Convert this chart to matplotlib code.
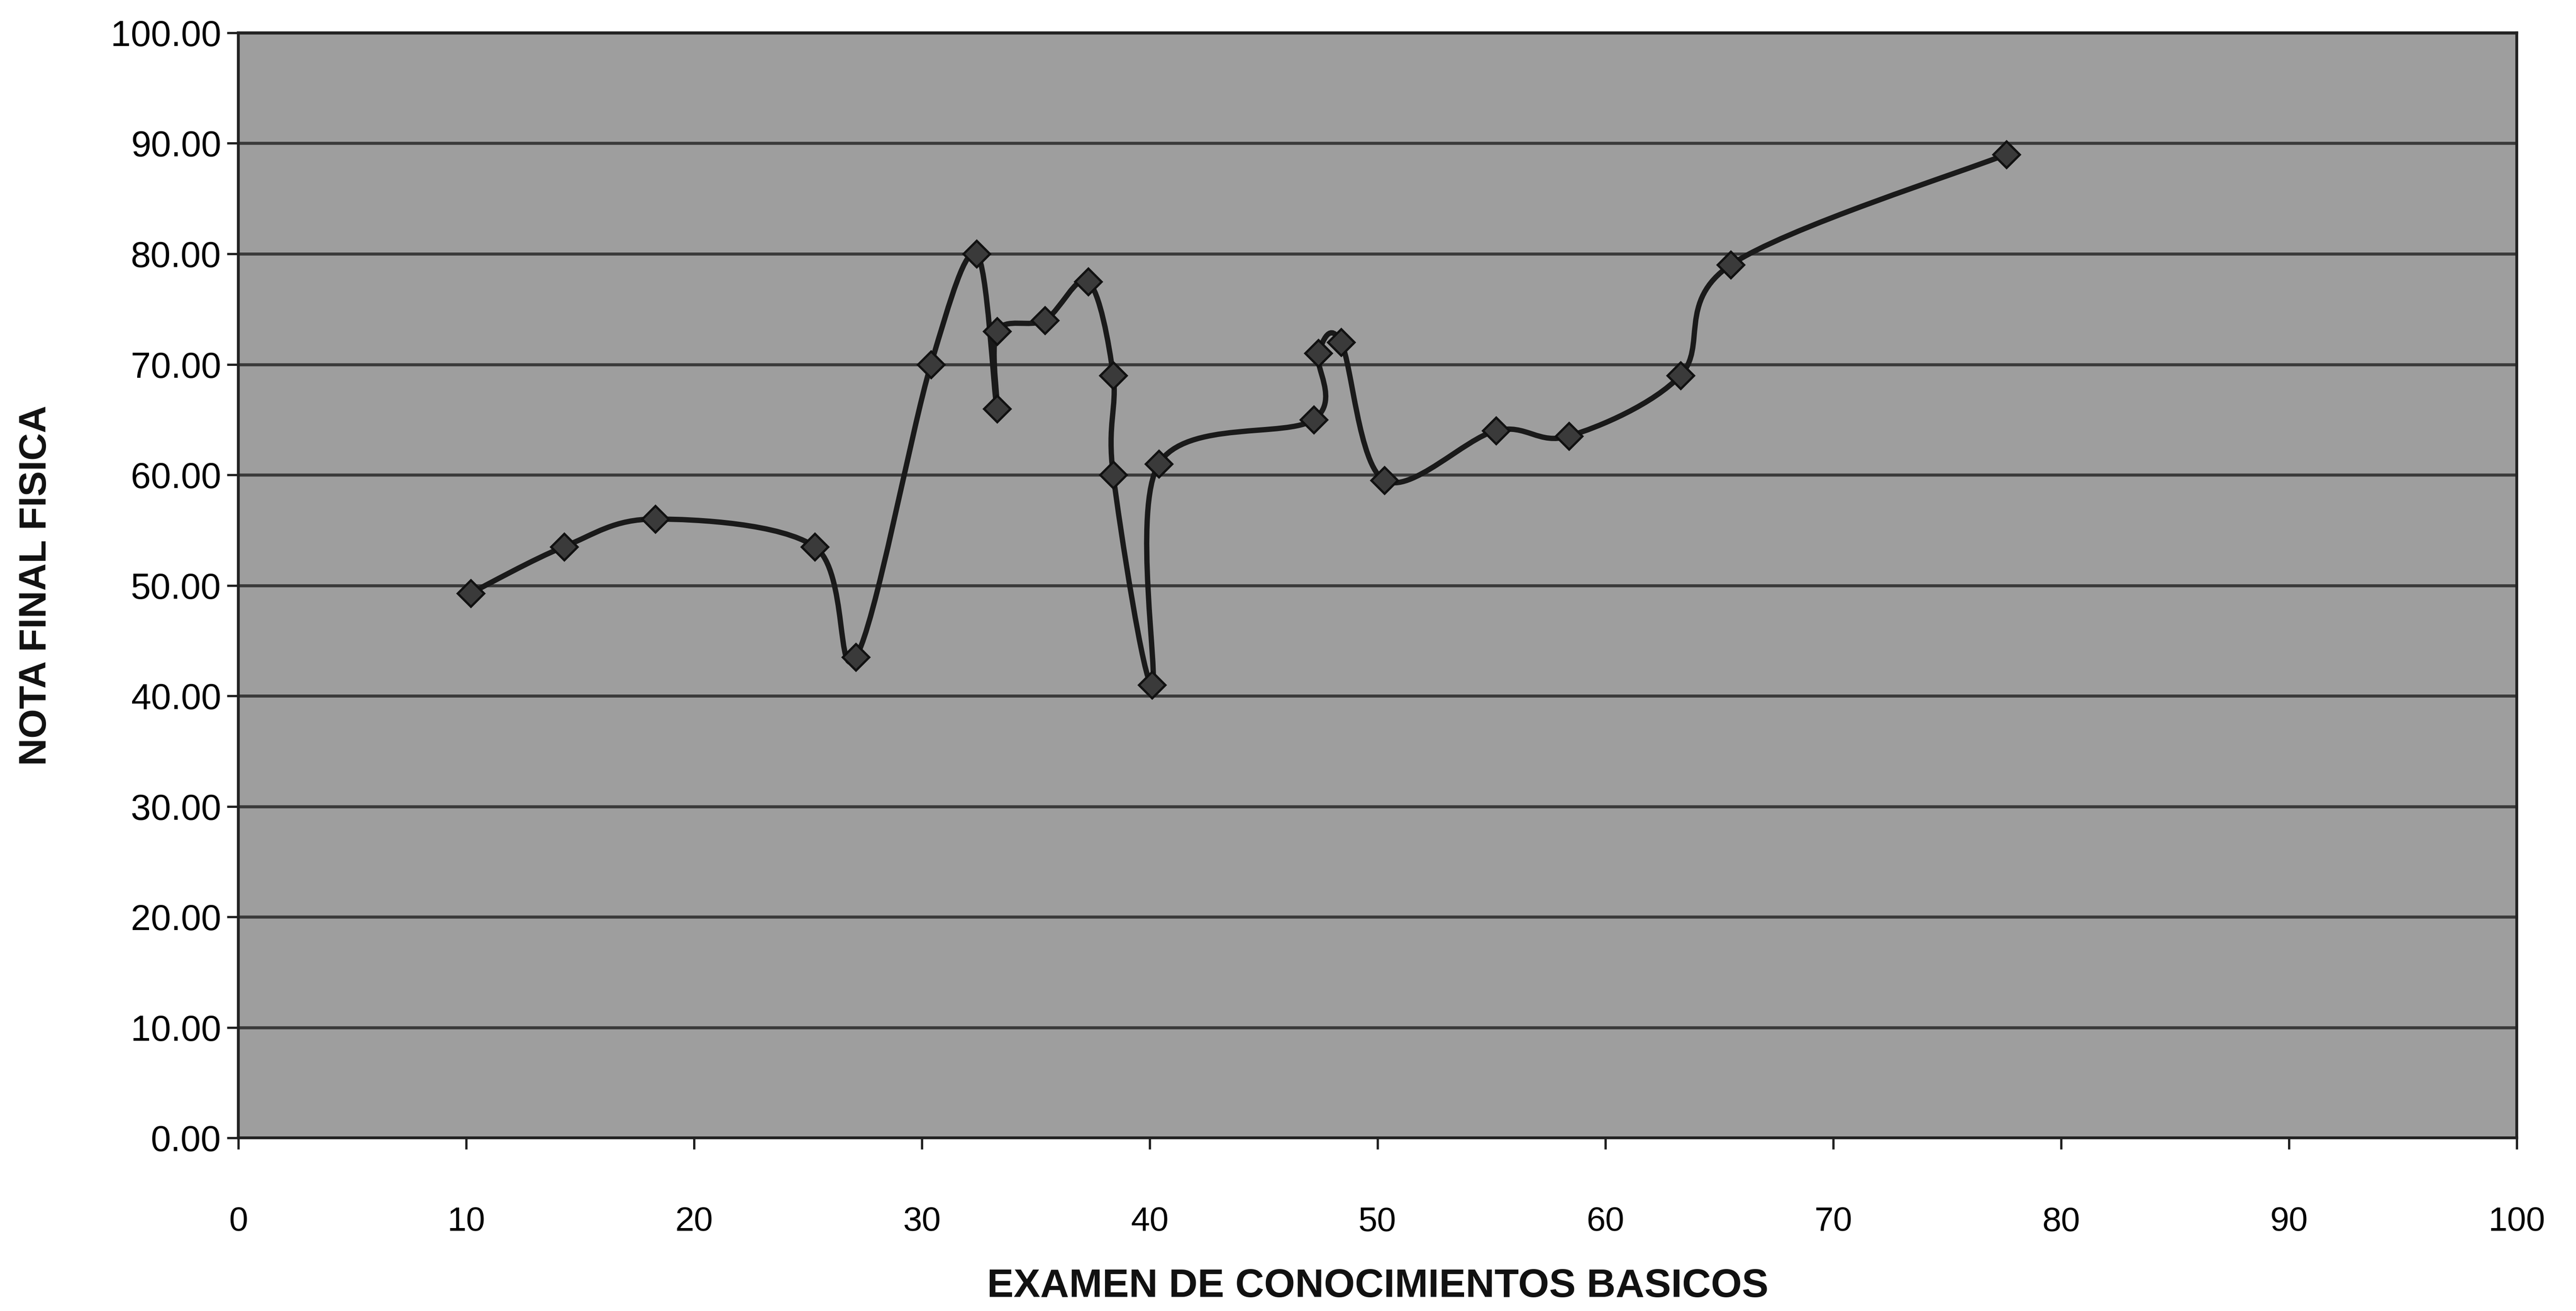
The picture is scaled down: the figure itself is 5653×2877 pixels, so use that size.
import numpy as np
import matplotlib
matplotlib.use("Agg")
import matplotlib.pyplot as plt
from matplotlib.path import Path
from matplotlib.patches import PathPatch

# Data (in drawing order)
examen = [10.2, 14.3, 18.3, 25.3, 27.1, 30.4, 32.4, 33.3, 33.3, 35.4, 37.3,
          38.4, 38.4, 40.1, 40.4, 47.2, 47.4, 48.4, 50.3, 55.2, 58.4, 63.3,
          65.5, 77.6]
nota = [49.3, 53.5, 56.0, 53.5, 43.5, 70.0, 80.0, 66.0, 73.0, 74.0, 77.5,
        69.0, 60.0, 41.0, 61.0, 65.0, 71.0, 72.0, 59.5, 64.0, 63.5, 69.0,
        79.0, 89.0]
x_ticks = [0, 10, 20, 30, 40, 50, 60, 70, 80, 90, 100]
y_ticks = [0, 10, 20, 30, 40, 50, 60, 70, 80, 90, 100]
x_label = "EXAMEN DE CONOCIMIENTOS BASICOS"
y_label = "NOTA FINAL FISICA"

plt.rcParams['font.family'] = ['Liberation Sans', 'DejaVu Sans']

fig = plt.figure(figsize=(5653 / 300, 2877 / 300), dpi=300)
ax = fig.add_axes([0.0925, 0.132, 0.8845, 0.843])
ax.set_facecolor('#9e9e9e')

ax.set_xlim(0, 100)
ax.set_ylim(0, 100)
ax.set_xticks(x_ticks)
ax.set_yticks(y_ticks)
ax.set_yticklabels([f"{v:.2f}" for v in y_ticks])
ax.tick_params(axis='both', length=6, width=1.2, direction='out', color='#222222')
ax.tick_params(axis='x', labelsize=18, pad=30)
ax.tick_params(axis='y', labelsize=19, pad=3)
ax.grid(axis='y', color='#3a3a3a', linewidth=1.6)
ax.set_axisbelow(True)
for s in ax.spines.values():
    s.set_color('#222222')
    s.set_linewidth(1.5)

# Excel-style smoothed line (cubic Bezier through the points)
xs = np.array(examen, float)
ys = np.array(nota, float)
n = len(xs)
verts = [(xs[0], ys[0])]
codes = [Path.MOVETO]
t = 1.0 / 6.0
for i in range(n - 1):
    x0, y0 = (xs[i - 1], ys[i - 1]) if i > 0 else (xs[i], ys[i])
    x1, y1 = xs[i], ys[i]
    x2, y2 = xs[i + 1], ys[i + 1]
    x3, y3 = (xs[i + 2], ys[i + 2]) if i + 2 < n else (x2, y2)
    c1 = (x1 + (x2 - x0) * t, y1 + (y2 - y0) * t)
    c2 = (x2 - (x3 - x1) * t, y2 - (y3 - y1) * t)
    verts += [c1, c2, (x2, y2)]
    codes += [Path.CURVE4] * 3
ax.add_patch(PathPatch(Path(verts, codes), facecolor='none', edgecolor='#1a1a1a',
                       linewidth=2.8, zorder=3))
ax.plot(examen, nota, linestyle='none', marker='D', markersize=10,
        markerfacecolor='#3a3a3a', markeredgecolor='#111111', markeredgewidth=1.2, zorder=4)

ax.set_xlabel(x_label, fontsize=21, fontweight='bold', labelpad=16, color='#111111')
ax.set_ylabel(y_label, fontsize=20, fontweight='bold', labelpad=30, color='#111111')

fig.savefig("out.png", dpi=300, facecolor='white')
